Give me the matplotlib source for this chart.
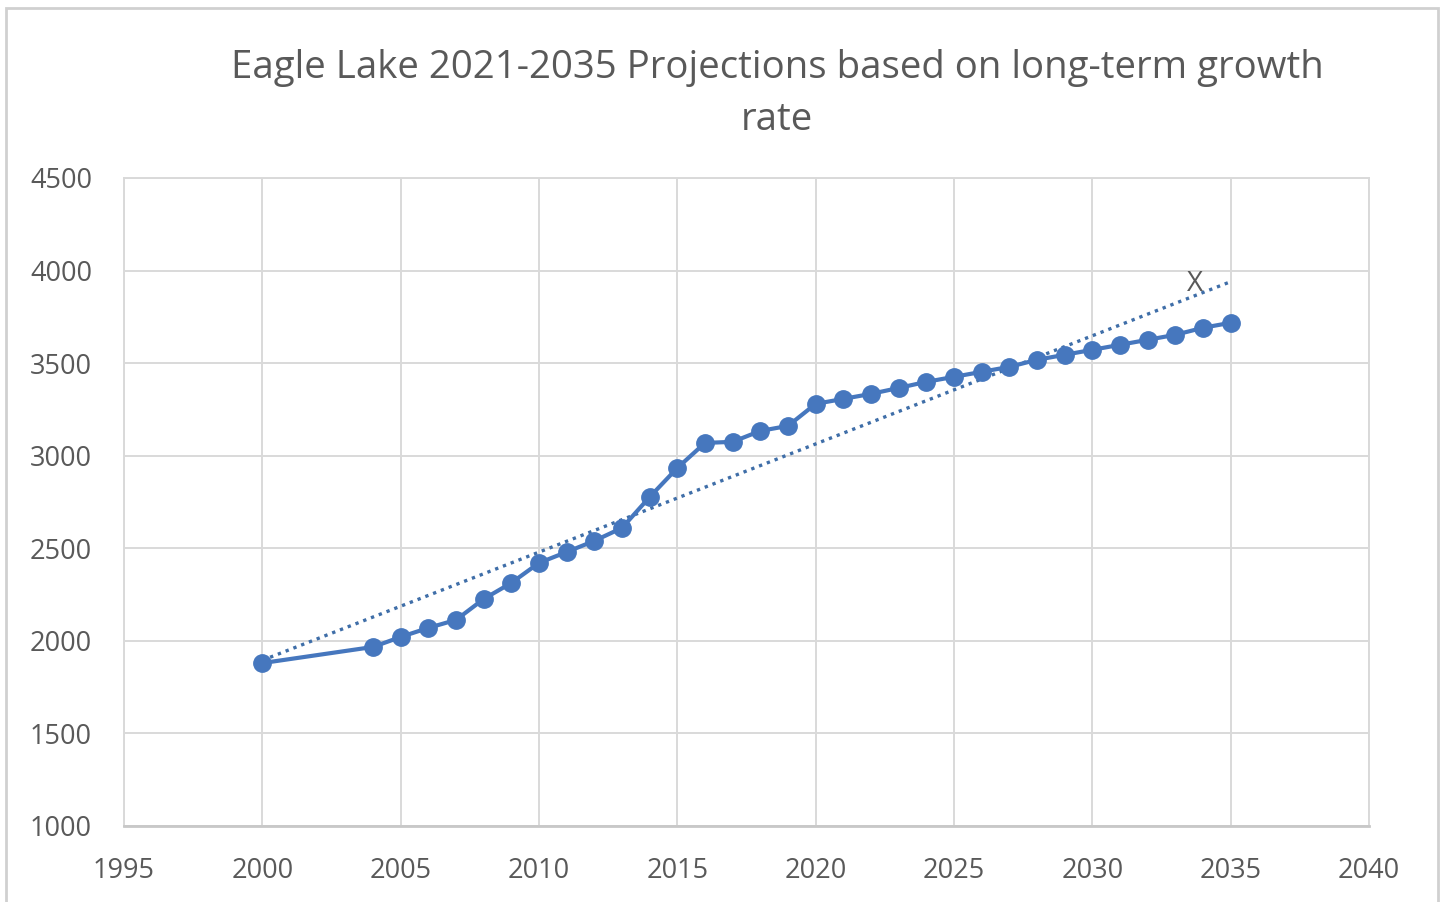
import matplotlib
matplotlib.use("Agg")
import matplotlib.pyplot as plt
from matplotlib.patches import Rectangle

# population by year
years = [2000, 2004, 2005, 2006, 2007, 2008, 2009, 2010, 2011, 2012, 2013,
         2014, 2015, 2016, 2017, 2018, 2019, 2020, 2021, 2022, 2023, 2024,
         2025, 2026, 2027, 2028, 2029, 2030, 2031, 2032, 2033, 2034, 2035]
population = [1880, 1967, 2021, 2070, 2113, 2226, 2313, 2421, 2480, 2540, 2610,
              2777, 2934, 3069, 3075, 3134, 3161, 3280, 3307, 3334, 3366, 3399,
              3426, 3453, 3480, 3518, 3545, 3572, 3599, 3626, 3653, 3691, 3718]

# long-term growth trend endpoints
trend_years = [2000, 2035]
trend_values = [1895, 3940]

title = "Eagle Lake 2021-2035 Projections based on long-term growth\nrate"
x_ticks = [1995, 2000, 2005, 2010, 2015, 2020, 2025, 2030, 2035, 2040]
y_ticks = [1000, 1500, 2000, 2500, 3000, 3500, 4000, 4500]

plt.rcParams['font.family'] = ['Open Sans', 'DejaVu Sans']

blue = "#4677BE"
text_gray = "#595959"
grid_gray = "#D9D9D9"

fig = plt.figure(figsize=(14.43, 9.02), dpi=100)
fig.patch.set_facecolor("white")
ax = fig.add_axes([124 / 1443, 1 - 826 / 902, (1369 - 124) / 1443, (826 - 178) / 902])

ax.plot(trend_years, trend_values, linestyle=(0, (1, 1.5)), color="#3F6EA8",
        linewidth=2.4, zorder=2)
ax.plot(years, population, color=blue, linewidth=3, marker='o',
        markersize=12.5, zorder=3)

ax.text(2033.7, 3925, "X", color=text_gray, fontsize=20, ha='center', va='center')

ax.set_xlim(1995, 2040)
ax.set_ylim(1000, 4500)
ax.set_xticks(x_ticks)
ax.set_yticks(y_ticks)
ax.tick_params(length=0, labelsize=19.5, labelcolor=text_gray)
ax.tick_params(axis='y', pad=23)
ax.tick_params(axis='x', pad=22)
ax.grid(True, color=grid_gray, linewidth=1.4)
ax.set_axisbelow(True)
for name, spine in ax.spines.items():
    spine.set_color(grid_gray)
    spine.set_linewidth(1.4)
ax.spines['bottom'].set_color("#C8C8C8")
ax.spines['bottom'].set_linewidth(2)

fig.text(777 / 1443, 1 - 49 / 902, title, ha='center', va='top', fontsize=27.6,
         color=text_gray, linespacing=1.5)

# outer chart border
fig.patches.append(Rectangle((6 / 1443, -0.01), (1438 - 6) / 1443, 1 - 8 / 902 + 0.01,
                             transform=fig.transFigure, fill=False,
                             edgecolor="#D0D0D0", linewidth=2))

fig.savefig("out.png", dpi=100)
